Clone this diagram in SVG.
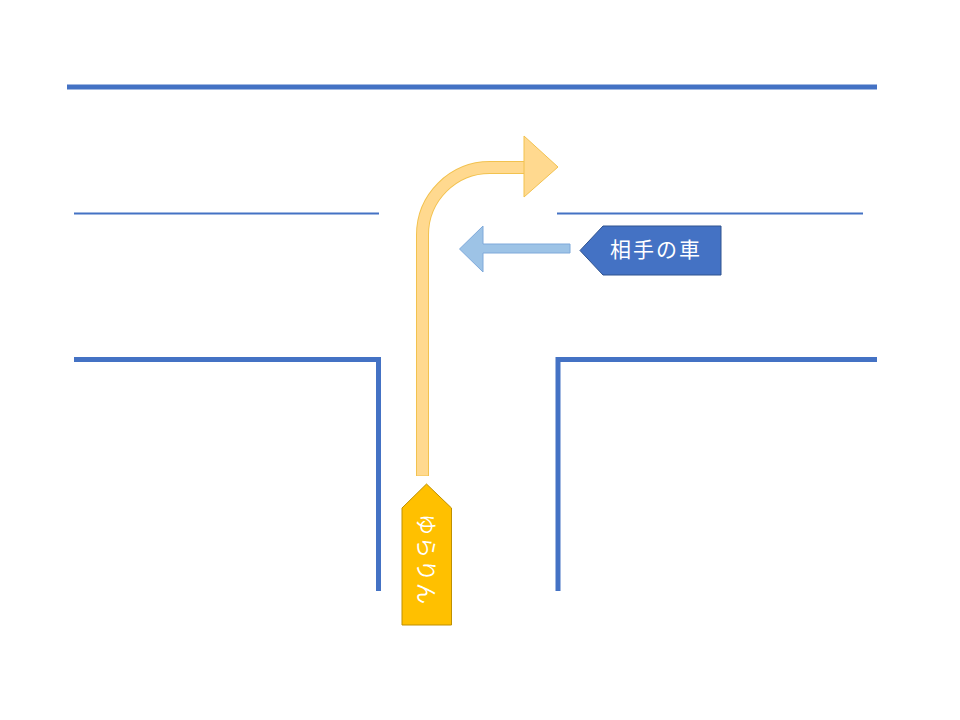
<svg xmlns="http://www.w3.org/2000/svg" width="960" height="720" viewBox="0 0 960 720">
<style>
.road{stroke:#4472C4;fill:none}
.lbl{fill:#FFFFFF;font-family:"Noto Sans CJK JP","Noto Sans CJK SC",sans-serif}
</style>
<rect width="960" height="720" fill="#FFFFFF"/>
<g id="roads">
<line class="road" x1="67" y1="87" x2="877" y2="87" stroke-width="5"/>
<line class="road" x1="74" y1="213.5" x2="379" y2="213.5" stroke-width="2"/>
<line class="road" x1="557" y1="213.5" x2="863" y2="213.5" stroke-width="2"/>
<polyline class="road" points="74,359.5 378.5,359.5 378.5,591" stroke-width="5"/>
<polyline class="road" points="877,359.5 558,359.5 558,591" stroke-width="5"/>
</g>
<g id="connectors">
<g id="turn-arrow">
<path d="M422.5,476 V235 A67.5,67.5 0 0 1 490,167.5 H526" fill="none" stroke="#F2C24F" stroke-width="13"/>
<path d="M422.5,475.5 V235 A67.5,67.5 0 0 1 490,167.5 H528" fill="none" stroke="#FFD98F" stroke-width="11"/>
<polygon points="524,136 558,167 524,197" fill="#FFD98F" stroke="#F2C24F" stroke-width="1"/>
</g>
<g id="oncoming-arrow">
<polygon points="570,244 483,244 483,226 459.5,249 483,272 483,253 570,253" fill="#9DC3E6" stroke="#7FA9DA" stroke-width="1"/>
</g>
</g>
<g id="other-car">
<polygon points="580,250.5 603,226 721,226 721,275 603,275" fill="#4472C4" stroke="#2F528F" stroke-width="1"/>
<text class="lbl" x="656" y="257" font-size="21" text-anchor="middle" letter-spacing="2">相手の車</text>
</g>
<g id="yurarin">
<polygon points="402,508 426.5,484 451.5,508 451.5,625 402,625" fill="#FFC000" stroke="#BF9000" stroke-width="1"/>
<text class="lbl" x="0" y="0" font-size="21" text-anchor="middle" dominant-baseline="central" letter-spacing="2" transform="translate(428,560) rotate(90)">ゆらりん</text>
</g>
</svg>
